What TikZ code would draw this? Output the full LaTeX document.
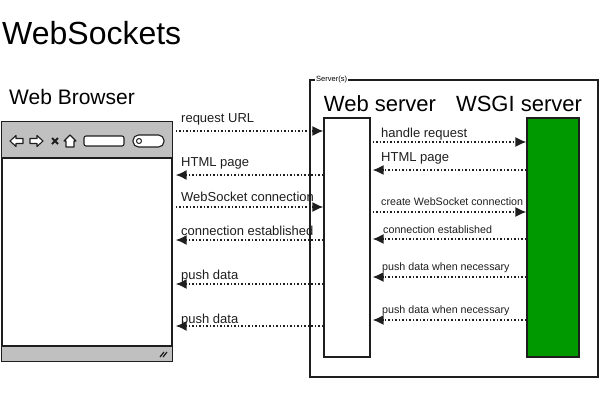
\documentclass[tikz,border=0pt]{standalone}
\usepackage{fontspec}
\setmainfont{Liberation Sans}
\usetikzlibrary{arrows.meta}
\definecolor{tbgray}{RGB}{192,192,192}
\definecolor{wsgigreen}{RGB}{0,153,0}
\definecolor{ink}{RGB}{30,30,30}
\begin{document}
\begin{tikzpicture}[x=1pt,y=-1pt,
  arr/.style={draw=ink,line width=1.5pt,dotted,-{Latex[length=11pt,width=10pt]}},
  lbl/.style={anchor=west,inner sep=0pt,text=ink},
  big/.style={font=\fontsize{13}{13}\selectfont},
  sml/.style={font=\fontsize{10.7}{10.7}\selectfont},
  icon/.style={draw=ink,line width=1.1pt,fill=white,line join=round}]
\useasboundingbox (0,0) rectangle (600,400);
% titles
\node[anchor=west,inner sep=0pt,font=\fontsize{32}{32}\selectfont] (title) at (2,33) {WebSockets};
\node[anchor=west,inner sep=0pt,font=\fontsize{21}{21}\selectfont] (wbt) at (9,97) {Web Browser};
% browser window
\node[draw=ink,line width=1.4pt,fill=white,minimum width=170pt,minimum height=239pt,inner sep=0pt] (br) at (87,241.5) {};
\fill[tbgray] (br.north west) rectangle (172,158);
\fill[tbgray] (2,346) rectangle (br.south east);
\draw[ink,line width=1.2pt] (2,158) -- (172,158);
\draw[ink,line width=1.2pt] (2,346) -- (172,346);
\draw[ink,line width=1.4pt] (br.north west) rectangle (br.south east);
% toolbar icons
\draw[icon] (10,141) -- (16,135.5) -- (16,138.5) -- (23,138.5) -- (23,143.5) -- (16,143.5) -- (16,146.5) -- cycle;
\draw[icon] (43,141) -- (37,135.5) -- (37,138.5) -- (30,138.5) -- (30,143.5) -- (37,143.5) -- (37,146.5) -- cycle;
\draw[ink,line width=2pt] (52,138) -- (58,144) (52,144) -- (58,138);
\draw[icon] (64,141) -- (70,135) -- (76,141) -- (74,141) -- (74,147) -- (66,147) -- (66,141) -- cycle;
\draw[icon,rounded corners=2pt] (84,136) rectangle (124,146);
\draw[icon,rounded corners=5.5pt] (133,135) rectangle (164,147);
\draw[ink,line width=1pt] (139,141) circle (2.5);
\draw[ink,line width=1.2pt] (160,357) -- (164,352) (163,357) -- (167,352);
% servers frame
\draw[ink,line width=1.4pt] (310,80) rectangle (598,377);
\node[anchor=west,fill=white,inner sep=1pt,font=\fontsize{7.5}{7.5}\selectfont] (srv) at (315,80) {Server(s)};
\node[inner sep=0pt,font=\fontsize{22}{22}\selectfont] (wst) at (380,104) {Web server};
\node[inner sep=0pt,font=\fontsize{22}{22}\selectfont] (wsgit) at (519,104) {WSGI server};
\node[draw=ink,line width=1.2pt,fill=white,minimum width=46pt,minimum height=239pt,inner sep=0pt] (ws) at (347,237.5) {};
\node[draw=ink,line width=1.2pt,fill=wsgigreen,minimum width=52pt,minimum height=239pt,inner sep=0pt] (wsgi) at (553,237.5) {};
% browser <-> web server
\draw[arr] ([xshift=3pt]br.east |- 0,131) -- (ws.west |- 0,131);
\node[lbl,big] (l1) at (181,119) {request URL};
\draw[arr] (ws.west |- 0,175) -- ([xshift=3pt]br.east |- 0,175);
\node[lbl,big] (l2) at (181,163) {HTML page};
\draw[arr] ([xshift=3pt]br.east |- 0,207) -- (ws.west |- 0,207);
\node[lbl,big] (l3) at (181,197) {WebSocket connection};
\draw[arr] (ws.west |- 0,240) -- ([xshift=3pt]br.east |- 0,240);
\node[lbl,big] (l4) at (181,231) {connection established};
\draw[arr] (ws.west |- 0,284) -- ([xshift=3pt]br.east |- 0,284);
\node[lbl,big] (l5) at (181,276) {push data};
\draw[arr] (ws.west |- 0,326) -- ([xshift=3pt]br.east |- 0,326);
\node[lbl,big] (l6) at (181,320) {push data};
% web server <-> wsgi
\draw[arr] ([xshift=2pt]ws.east |- 0,142) -- (wsgi.west |- 0,142);
\node[lbl,big] (r1) at (381,134) {handle request};
\draw[arr] (wsgi.west |- 0,170) -- ([xshift=2pt]ws.east |- 0,170);
\node[lbl,big] (r2) at (381,158) {HTML page};
\draw[arr] ([xshift=2pt]ws.east |- 0,212) -- (wsgi.west |- 0,212);
\node[lbl,sml] (r3) at (381,202) {create WebSocket connection};
\draw[arr] (wsgi.west |- 0,239) -- ([xshift=2pt]ws.east |- 0,239);
\node[lbl,sml] (r4) at (383,230) {connection established};
\draw[arr] (wsgi.west |- 0,277) -- ([xshift=2pt]ws.east |- 0,277);
\node[lbl,sml] (r5) at (382,268) {push data when necessary};
\draw[arr] (wsgi.west |- 0,320) -- ([xshift=2pt]ws.east |- 0,320);
\node[lbl,sml] (r6) at (382,311) {push data when necessary};
\end{tikzpicture}
\end{document}
